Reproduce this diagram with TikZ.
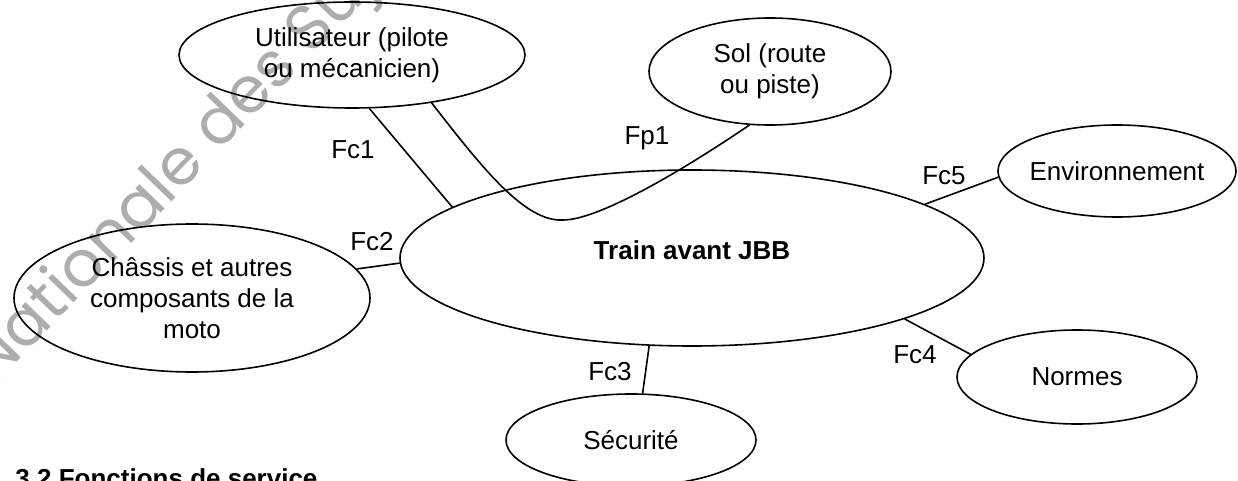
\documentclass[tikz,border=0pt]{standalone}
\usepackage{fontspec}
\setmainfont{Liberation Sans}
\newfontfamily\filigrane{Poppins}
\usetikzlibrary{shapes.geometric}
\tikzset{bulle/.style={draw, ellipse, inner sep=0pt, align=center}}
\tikzset{fct/.style={inner sep=0pt}}
\tikzset{liaison/.style={draw, line width=0.8pt}}

\begin{document}
\begin{tikzpicture}[x=0.5pt,y=-0.5pt,line width=0.8pt,font=\fontsize{13}{15.5}\selectfont]
      \clip (0,0) rectangle (1238,481);
      % filigrane
      \node [anchor=base west,rotate=46,text=black!32,font=\filigrane\fontsize{32}{34}\selectfont] (wm) at (-12,392) {Nationale des Sujets};

      \node [bulle,minimum width=292pt,minimum height=88pt,text depth=8pt,font=\bfseries\fontsize{13}{15.5}\selectfont] (train) at (692,258) {Train avant JBB};
      \node [bulle,minimum width=173pt,minimum height=53pt] (util) at (352,55) {Utilisateur (pilote\\ou mécanicien)};
      \node [bulle,minimum width=121pt,minimum height=53.5pt] (sol) at (770,71.5) {Sol (route\\ou piste)};
      \node [bulle,minimum width=119pt,minimum height=46pt,inner xsep=-3pt] (env) at (1117,171) {Environnement};
      \node [bulle,minimum width=178pt,minimum height=74pt] (chassis) at (192,298) {Châssis et autres\\composants de la\\moto};
      \node [bulle,minimum width=125pt,minimum height=46pt] (secu) at (631,440) {Sécurité};
      \node [bulle,minimum width=120pt,minimum height=47pt] (normes) at (1077,377) {Normes};

      \draw [liaison] (util.-72) -- (train.168);
      \draw [liaison] (util.-31) .. controls (483,169) and (525,222) .. (563,220) .. controls (605,220) and (710,152) .. (sol.249.5);
      \draw [liaison] (chassis.10) -- (train.181);
      \draw [liaison] (train.-116) -- (secu.76);
      \draw [liaison] (train.-16) -- (normes.168);
      \draw [liaison] (train.13) -- (env.183);

      \node [fct] (fc1) at (353,150) {Fc1};
      \node [fct] (fp1) at (647,138) {Fp1};
      \node [fct] (fc2) at (372,242) {Fc2};
      \node [fct] (fc3) at (610,372) {Fc3};
      \node [fct] (fc4) at (915,355) {Fc4};
      \node [fct] (fc5) at (944,176) {Fc5};

      \node [anchor=base west,font=\bfseries\fontsize{13}{15.5}\selectfont] (titre) at (8,487) {3.2 Fonctions de service};
    \end{tikzpicture}
\end{document}
